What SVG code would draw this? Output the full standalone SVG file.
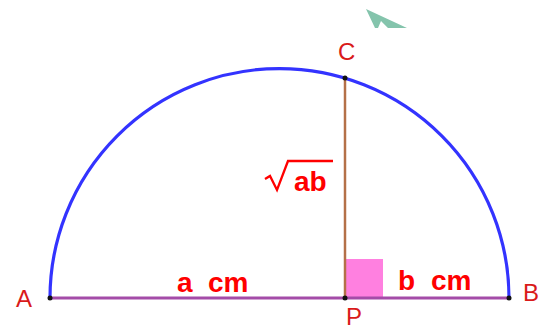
<svg xmlns="http://www.w3.org/2000/svg" width="540" height="331" viewBox="0 0 540 331">
<style>
.pt{fill:#111}
.lbl{font-family:"Liberation Sans",Arial,sans-serif;font-size:24px;fill:#d91a1a}
.bl{font-family:"Liberation Sans",Arial,sans-serif;font-weight:bold;font-size:28px;fill:#ff0000}
</style>
<rect width="540" height="331" fill="#ffffff"/>
<polygon points="366,9 407,28 388,28 381,21 378,28 375,28" fill="#84c4ac"/>
<g id="connectors">
<rect x="346" y="259" width="37" height="38" fill="#ff80e0"/>
<path d="M50,298 A229.5,229.5 0 0 1 509,298" fill="none" stroke="#3333ff" stroke-width="3.2"/>
<line x1="50" y1="298" x2="509" y2="298" stroke="#a44ca8" stroke-width="3"/>
<line x1="345" y1="78" x2="345" y2="298" stroke="#b47048" stroke-width="2.5"/>
</g>
<g id="A"><circle class="pt" cx="50" cy="298" r="2.5"/><text class="lbl" x="16" y="307">A</text></g>
<g id="B"><circle class="pt" cx="509" cy="298" r="2.5"/><text class="lbl" x="523" y="301">B</text></g>
<g id="C"><circle class="pt" cx="345" cy="78" r="2.5"/><text class="lbl" x="338" y="60">C</text></g>
<g id="P"><circle class="pt" cx="345" cy="298" r="2.5"/><text class="lbl" x="346" y="325">P</text></g>
<g id="labels">
<text class="bl" y="292"><tspan x="177">a</tspan><tspan x="208">cm</tspan></text>
<text class="bl" y="290"><tspan x="398">b</tspan><tspan x="431">cm</tspan></text>
<path d="M265,179 L270,176 L277,190 L288,161 L333,161" fill="none" stroke="#ff0000" stroke-width="2.3"/>
<text class="bl" x="294" y="191">ab</text>
</g>
</svg>
